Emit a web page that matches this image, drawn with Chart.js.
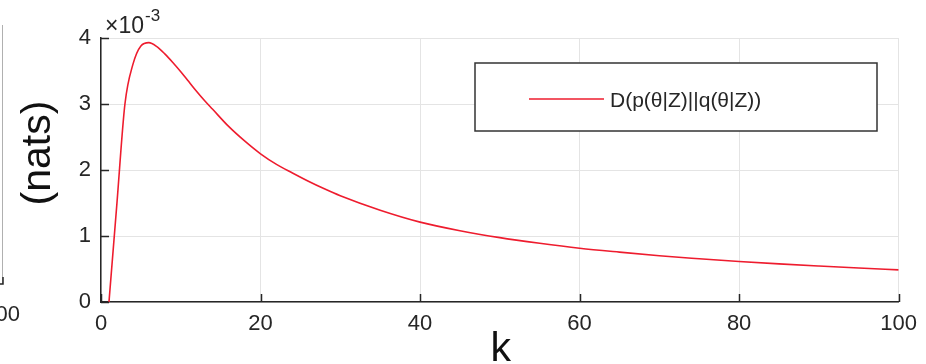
<!DOCTYPE html>
<html>
<head>
<meta charset="utf-8">
<script src="https://cdn.jsdelivr.net/npm/chart.js@4"></script>
<style>
  html, body { margin: 0; padding: 0; background: #fff; }
  #wrap { width: 926px; height: 364px; }
</style>
</head>
<body>
<div id="wrap"><canvas id="klChart" width="926" height="364"></canvas></div>
<script>
// k values and the divergence (in units of 1e-3 nats)
const kValues = [1, 2, 3, 4, 5, 6, 7, 8, 9, 10, 11, 12, 13, 14, 16, 18, 20, 22, 24, 26, 28, 30,
                 35, 40, 45, 50, 55, 60, 65, 70, 75, 80, 85, 90, 95, 100];
const divergence = [0, 1.5, 3.0, 3.6, 3.88, 3.93, 3.87, 3.76, 3.63, 3.49, 3.34, 3.19, 3.05, 2.92,
                    2.66, 2.44, 2.245, 2.085, 1.955, 1.83, 1.715, 1.61,
                    1.39, 1.21, 1.08, 0.975, 0.89, 0.815, 0.755, 0.70, 0.655, 0.613, 0.577,
                    0.545, 0.515, 0.487];
const xTicks = [0, 20, 40, 60, 80, 100];
const yTicks = [0, 1, 2, 3, 4];
const seriesLabel = 'D(p(θ|Z)||q(θ|Z))';

const fontFamily = '"Liberation Sans", Arial, Helvetica, sans-serif';
const axisColor = '#262626';
const lineColor = '#ee1c2e';

// inward ticks, axis titles, exponent label, legend box and the cut-off neighbour axis
const decorations = {
    id: 'decorations',
    afterDraw(chart) {
        const ctx = chart.ctx;
        const area = chart.chartArea;
        const xs = chart.scales.x;
        const ys = chart.scales.y;
        ctx.save();

        // inward tick marks
        ctx.strokeStyle = axisColor;
        ctx.lineWidth = 1.5;
        ctx.beginPath();
        yTicks.forEach(v => {
            const y = Math.round(ys.getPixelForValue(v)) + 0.5;
            ctx.moveTo(area.left, y);
            ctx.lineTo(area.left + 8, y);
        });
        xTicks.forEach(v => {
            const x = Math.round(xs.getPixelForValue(v)) + 0.5;
            ctx.moveTo(x, area.bottom);
            ctx.lineTo(x, area.bottom - 8);
        });
        ctx.stroke();

        // exponent label
        ctx.fillStyle = axisColor;
        ctx.textBaseline = 'alphabetic';
        ctx.textAlign = 'left';
        ctx.font = '23px ' + fontFamily;
        ctx.fillText('×10', area.left + 4, area.top - 5);
        const w = ctx.measureText('×10').width;
        ctx.font = '17px ' + fontFamily;
        ctx.fillText('-3', area.left + 4 + w + 1, area.top - 17);

        // axis titles
        ctx.fillStyle = '#111';
        ctx.font = '41px ' + fontFamily;
        ctx.textAlign = 'center';
        ctx.fillText('k', (area.left + area.right) / 2 + 1, 361);
        ctx.save();
        ctx.translate(50, 153);
        ctx.rotate(-Math.PI / 2);
        ctx.fillText('(nats)', 0, 0);
        ctx.restore();

        // legend
        const ds = chart.data.datasets[0];
        ctx.fillStyle = '#fff';
        ctx.fillRect(475, 63, 402, 68);
        ctx.strokeStyle = '#333';
        ctx.lineWidth = 1.5;
        ctx.strokeRect(475, 63, 402, 68);
        ctx.strokeStyle = ds.borderColor;
        ctx.lineWidth = 1.5;
        ctx.beginPath();
        ctx.moveTo(529, 99);
        ctx.lineTo(604, 99);
        ctx.stroke();
        ctx.fillStyle = axisColor;
        ctx.textAlign = 'left';
        ctx.font = '21px ' + fontFamily;
        ctx.fillText(ds.label, 610, 107);

        // neighbouring subplot, cut off on the left
        ctx.strokeStyle = '#b0b0b0';
        ctx.lineWidth = 1;
        ctx.beginPath();
        ctx.moveTo(2.5, 25);
        ctx.lineTo(2.5, 284);
        ctx.stroke();
        ctx.strokeStyle = axisColor;
        ctx.lineWidth = 1.5;
        ctx.beginPath();
        ctx.moveTo(0, 284);
        ctx.lineTo(3, 284);
        ctx.lineTo(3, 277);
        ctx.stroke();
        ctx.fillStyle = axisColor;
        ctx.textAlign = 'right';
        ctx.font = '22px ' + fontFamily;
        ctx.fillText('100', 20, 321);

        ctx.restore();
    }
};

const chart = new Chart(document.getElementById('klChart').getContext('2d'), {
    type: 'line',
    data: {
        datasets: [{
            label: seriesLabel,
            data: kValues.map((k, i) => ({ x: k, y: divergence[i] })),
            borderColor: lineColor,
            borderWidth: 1.6,
            pointRadius: 0,
            cubicInterpolationMode: 'monotone',
            fill: false
        }]
    },
    options: {
        responsive: false,
        animation: false,
        devicePixelRatio: 1,
        layout: { padding: { left: 0, right: 25, top: 38, bottom: 0 } },
        plugins: {
            legend: { display: false },
            tooltip: { enabled: false }
        },
        scales: {
            x: {
                type: 'linear',
                min: 0,
                max: 100,
                afterBuildTicks: s => { s.ticks = xTicks.map(v => ({ value: v })); },
                afterFit: s => { s.height = 62; },
                ticks: {
                    color: axisColor,
                    font: { family: fontFamily, size: 22 },
                    padding: 9,
                    maxRotation: 0
                },
                grid: { color: '#e4e4e4', lineWidth: 1, drawTicks: false },
                border: { color: axisColor, width: 1.5 }
            },
            y: {
                min: 0,
                max: 4,
                afterBuildTicks: s => { s.ticks = yTicks.map(v => ({ value: v })); },
                afterFit: s => { s.width = 101; },
                ticks: {
                    color: axisColor,
                    font: { family: fontFamily, size: 22 },
                    padding: 10
                },
                grid: { color: '#e4e4e4', lineWidth: 1, drawTicks: false },
                border: { color: axisColor, width: 1.5 }
            }
        }
    },
    plugins: [decorations]
});
</script>
</body>
</html>
